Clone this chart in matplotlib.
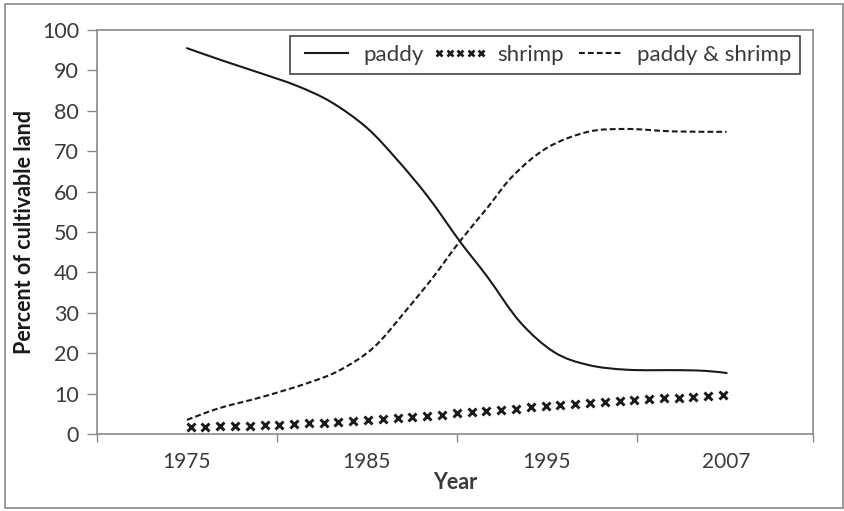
import numpy as np
import matplotlib
matplotlib.use("Agg")
import matplotlib.pyplot as plt
from matplotlib.path import Path
from matplotlib.patches import PathPatch, Rectangle
from matplotlib.lines import Line2D

plt.rcParams['font.family'] = ['Lato', 'DejaVu Sans']
plt.rcParams['lines.scale_dashes'] = False

# Category labels along the x axis (evenly spaced categories)
year_labels = ["1975", "1985", "1995", "2007"]

# Paddy share: positions along the category axis and percent of cultivable land
paddy_pos = [0.00, 0.20, 0.41, 0.61, 0.80, 1.00, 1.17, 1.34, 1.52, 1.67,
             1.85, 2.04, 2.23, 2.45, 2.74, 2.89, 3.00]
paddy_val = [95.5, 92.4, 89.3, 86.2, 82.2, 75.8, 67.8, 58.7, 47.5, 38.9,
             27.8, 20.3, 17.1, 15.9, 15.8, 15.6, 15.1]

# Paddy & shrimp share
mixed_pos = [0.00, 0.18, 0.42, 0.67, 0.85, 1.04, 1.22, 1.37, 1.51, 1.67,
             1.81, 2.00, 2.23, 2.45, 2.70, 3.00]
mixed_val = [3.5, 6.4, 9.2, 12.6, 15.8, 21.5, 30.7, 38.9, 47.3, 56.0,
             63.8, 70.8, 74.8, 75.5, 74.9, 74.8]

# Shrimp share, one value per marker from first to last year
shrimp_val = [1.7, 1.8, 1.9, 2.0, 2.1, 2.2, 2.3, 2.5, 2.6, 2.8, 3.0, 3.2,
              3.4, 3.6, 3.9, 4.2, 4.5, 4.8, 5.1, 5.4, 5.7, 6.0, 6.3, 6.7,
              7.0, 7.3, 7.5, 7.6, 7.9, 8.2, 8.4, 8.6, 8.8, 9.0, 9.2, 9.4, 9.6]

ink = "#1a1a1a"
grey = "#8a8a8a"
text_c = "#3a3a3a"
dash = (0, (4.2, 2.2))
lw = 1.5


def smooth_path(xs, ys):
    """Cubic Bezier path passing through the points (Catmull-Rom style)."""
    p = np.column_stack([xs, ys]).astype(float)
    ext = np.vstack([p[0], p, p[-1]])
    verts = [p[0]]
    codes = [Path.MOVETO]
    for i in range(len(p) - 1):
        a, b, c, d = ext[i], ext[i + 1], ext[i + 2], ext[i + 3]
        verts += [b + (c - a) / 6.0, c - (d - b) / 6.0, c]
        codes += [Path.CURVE4] * 3
    return Path(verts, codes)


fig = plt.figure(figsize=(8.44, 5.11), dpi=100)
ax = fig.add_axes([97 / 844, 1 - 434 / 511, 716 / 844, 404 / 511])

ax.add_patch(PathPatch(smooth_path(paddy_pos, paddy_val), fill=False,
                       edgecolor=ink, lw=lw, capstyle='round'))
ax.add_patch(PathPatch(smooth_path(mixed_pos, mixed_val), fill=False,
                       edgecolor=ink, lw=lw, linestyle=dash))
shrimp_pos = np.linspace(0.02, 2.98, len(shrimp_val))
ax.plot(shrimp_pos, shrimp_val, linestyle='none', marker='x', ms=5.6,
        mew=2.1, color=ink)

ax.set_xlim(-0.5, 3.48)
ax.set_ylim(0, 100)
ax.set_yticks(np.arange(0, 101, 10))
ax.set_xticks([-0.5, 0.5, 1.5, 2.5, 3.48])
ax.set_xticklabels([])
ax.set_xticks(range(len(year_labels)), minor=True)
ax.set_xticklabels(year_labels, minor=True)
ax.tick_params(axis='x', which='major', direction='out', length=6,
               color=grey, width=1)
ax.tick_params(axis='x', which='minor', length=0, pad=13, labelsize=15,
               labelcolor=text_c)
ax.tick_params(axis='y', direction='out', length=7, color=grey, width=1,
               labelsize=15.5, labelcolor=text_c, pad=6)
for s in ax.spines.values():
    s.set_color(grey)
    s.set_linewidth(1.2)

ax.set_ylabel("Percent of cultivable land", fontsize=15.5, fontweight='bold',
              color=ink, labelpad=5)
ax.set_xlabel("Year", fontsize=15.5, fontweight='bold', color=text_c,
              labelpad=0)

handles = [
    Line2D([], [], color=ink, lw=lw),
    Line2D([], [], color=ink, linestyle='none', marker='x', ms=4.3, mew=1.9),
    Line2D([], [], color=ink, lw=lw, linestyle=dash),
]
leg = ax.legend(handles, ["paddy", "shrimp", "paddy & shrimp"], ncol=3,
                loc='upper right', bbox_to_anchor=(0.982, 0.985),
                fontsize=16, numpoints=5, handlelength=2.5,
                handletextpad=0.4, columnspacing=0.4, borderpad=0.4,
                borderaxespad=0.0, fancybox=False, framealpha=1,
                edgecolor="#444444", labelcolor=text_c)
leg.get_frame().set_linewidth(1.2)

fig.patches.append(Rectangle((5 / 844, 1 - 508 / 511), 838 / 844, 504 / 511,
                             transform=fig.transFigure, fill=False,
                             edgecolor=grey, lw=1.2))

fig.savefig("out.png", dpi=100)
